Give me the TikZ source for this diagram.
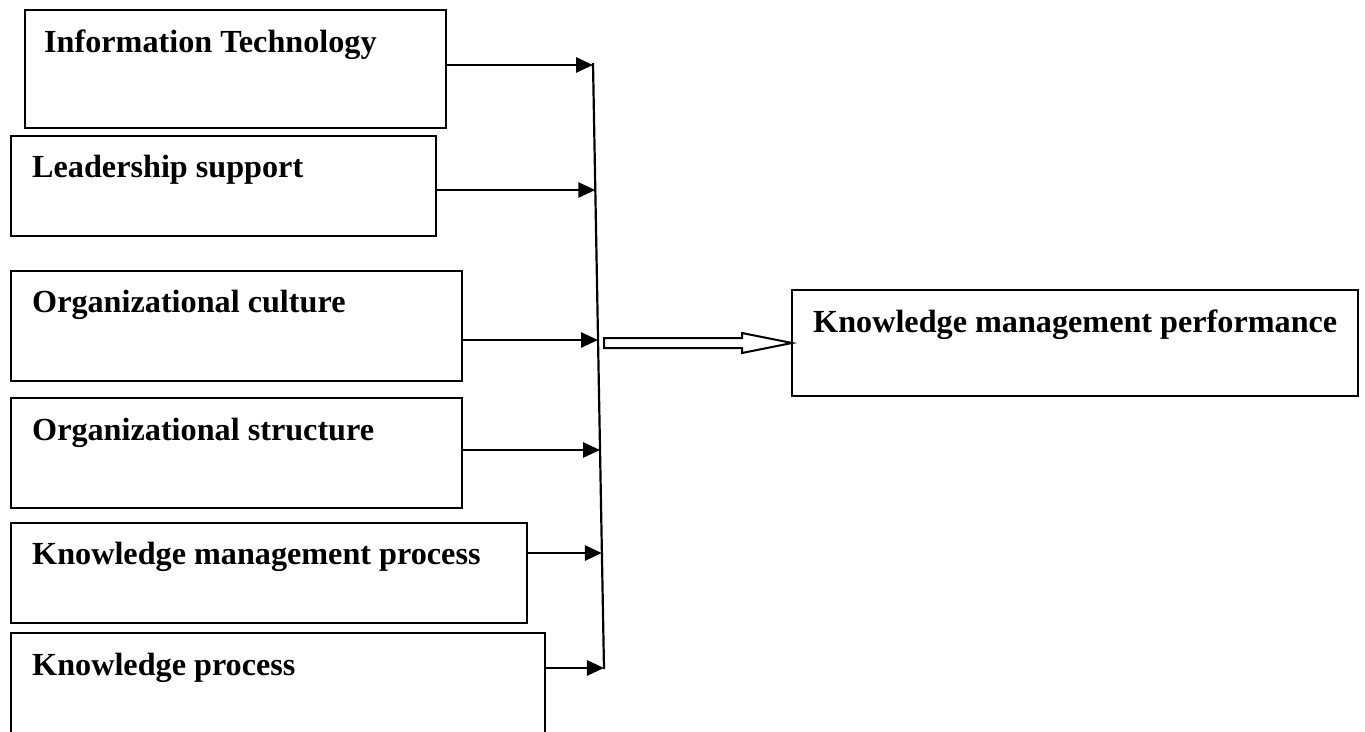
\documentclass[tikz,border=0pt]{standalone}
\usepackage{fontspec}
\setmainfont{Liberation Serif}
\usetikzlibrary{arrows.meta,calc}
\begin{document}
\begin{tikzpicture}[x=1pt,y=-1pt,
  box/.style={draw,line width=2.3pt,rectangle,inner sep=0pt,outer sep=0pt,anchor=north west},
  lbl/.style={anchor=base west,inner sep=0pt,font=\fontsize{32.2}{38}\selectfont\bfseries},
  conn/.style={line width=2.8pt,-{Triangle[length=17pt,width=15pt]}},
  bus/.style={line width=2.2pt},
  hollow/.style={line width=2pt,fill=white,line join=miter}
]
\useasboundingbox (0,0) rectangle (1365,731);
\clip (0,0) rectangle (1365,731);

% boxes
\node[box,minimum width=421pt,minimum height=118pt] (it) at (25,10) {};
\node[box,minimum width=425pt,minimum height=100pt] (ls) at (11,136) {};
\node[box,minimum width=451pt,minimum height=110pt] (oc) at (11,271) {};
\node[box,minimum width=451pt,minimum height=110pt] (os) at (11,398) {};
\node[box,minimum width=516pt,minimum height=100pt] (kmp) at (11,523) {};
\node[box,minimum width=534pt,minimum height=130pt] (kp) at (11,633) {};
\node[box,minimum width=566pt,minimum height=106pt] (kmperf) at (792,290) {};

% labels
\node[lbl] (itl) at (44,52) {Information Technology};
\node[lbl] (lsl) at (32,177) {Leadership support};
\node[lbl] (ocl) at (32,312) {Organizational culture};
\node[lbl] (osl) at (32,440) {Organizational structure};
\node[lbl] (kmpl) at (32,564) {Knowledge management process};
\node[lbl] (kpl) at (32,675) {Knowledge process};
\node[lbl] (kmperfl) at (813,332) {Knowledge management performance};

% collecting line
\coordinate (vt) at (593,63);
\coordinate (vb) at (604,669);
\draw[bus] (vt) -- (vb);

\coordinate (t1) at ($(vt)!0.0033!(vb)$);
\coordinate (t2) at ($(vt)!0.2096!(vb)$);
\coordinate (t3) at ($(vt)!0.4571!(vb)$);
\coordinate (t4) at ($(vt)!0.6386!(vb)$);
\coordinate (t5) at ($(vt)!0.8086!(vb)$);
\coordinate (t6) at ($(vt)!0.9983!(vb)$);

\draw[conn] (it.east |- t1) -- (t1);
\draw[conn] (ls.east |- t2) -- (t2);
\draw[conn] (oc.east |- t3) -- (t3);
\draw[conn] (os.east |- t4) -- (t4);
\draw[conn] (kmp.east |- t5) -- (t5);
\draw[conn] (kp.east |- t6) -- (t6);

% hollow arrow
\coordinate (hs) at (kmperf.west -| vb);
\draw[hollow] ($(hs)+(0,-5)$) -- ($(kmperf.west)+(-50,-5)$) -- ($(kmperf.west)+(-50,-10)$)
  -- (kmperf.west) -- ($(kmperf.west)+(-50,10)$) -- ($(kmperf.west)+(-50,5)$)
  -- ($(hs)+(0,5)$) -- cycle;
\end{tikzpicture}
\end{document}
